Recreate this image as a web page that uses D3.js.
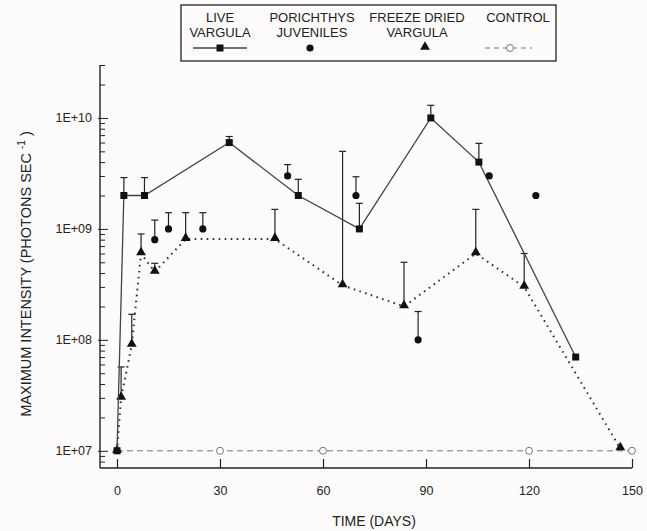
<!DOCTYPE html>
<html><head><meta charset="utf-8">
<script src="https://cdn.jsdelivr.net/npm/d3@7"></script>
<style>body{margin:0;background:#fdfbfb}svg{display:block}text{font-family:"Liberation Sans",Arial,sans-serif;fill:#222}</style>
</head><body><svg id="c" width="647" height="531"></svg>
<script>
// ---- data ----
const liveDays = [0, 2, 8, 32.7, 52.8, 70.6, 91.4, 105.4, 133.6];
const liveValues = [1e7, 2e9, 2e9, 6e9, 2e9, 1e9, 1e10, 4e9, 7e7];
const liveErrTop = [null, 2.9e9, 2.9e9, 6.8e9, 2.8e9, 1.7e9, 1.3e10, 5.9e9, null];

const porDays = [11, 15, 25, 49.7, 69.6, 87.7, 108.4, 122];
const porValues = [8e8, 1e9, 1e9, 3e9, 2e9, 1e8, 3e9, 2e9];
const porErrTop = [1.2e9, 1.4e9, 1.4e9, 3.8e9, 2.95e9, 1.8e8, null, null];

const frzDays = [0, 1.2, 4.3, 7, 11, 20, 46, 65.7, 83.6, 104.5, 118.6, 146.6];
const frzValues = [1e7, 3e7, 9e7, 6e8, 4.1e8, 8.1e8, 8.1e8, 3.1e8, 2e8, 6e8, 3e8, 1.05e7];
const frzErrTop = [null, 5.7e7, 1.7e8, 9e8, 4.9e8, 1.4e9, 1.5e9, 5e9, 5e8, 1.5e9, 6e8, null];

const ctrlDays = [0, 30, 60, 120, 150];
const ctrlValues = [1e7, 1e7, 1e7, 1e7, 1e7];

const xTicks = [0, 30, 60, 90, 120, 150];
const yMajor = [1e7, 1e8, 1e9, 1e10];
const yTickLabels = ["1E+07", "1E+08", "1E+09", "1E+10"];

const legendLabels = [["LIVE", "VARGULA"], ["PORICHTHYS", "JUVENILES"], ["FREEZE DRIED", "VARGULA"], ["CONTROL"]];

// ---- drawing ----
const svg = d3.select("#c");
const ink = "#222";
const x = d3.scaleLinear().domain([0, 150]).range([117, 632]);
const y = d3.scaleLog().domain([7e6, 3e10]).range([468, 65]);

// minor tick values
const yMinor = [];
for (let e = 6; e <= 10; e++) for (let m = 2; m <= 9; m++) {
  const v = m * Math.pow(10, e);
  if (v >= 7.9e6 && v <= 3.01e10) yMinor.push(v);
}

// axes lines
svg.append("line").attr("x1", 100).attr("x2", 100).attr("y1", y(3e10)).attr("y2", 468).attr("stroke", ink).attr("stroke-width", 1.4);
svg.append("line").attr("x1", 100).attr("x2", x(150)).attr("y1", 468).attr("y2", 468).attr("stroke", ink).attr("stroke-width", 1.4);

// y axis: major
const yAxisMajor = d3.axisLeft(y).tickValues(yMajor).tickSizeInner(-8).tickSizeOuter(0).tickPadding(16)
  .tickFormat((d, i) => yTickLabels[i]);
const gy = svg.append("g").attr("transform", "translate(100,0)").call(yAxisMajor);
gy.select(".domain").remove();
gy.selectAll("line").attr("stroke", ink).attr("x1", -2);
gy.selectAll("text").style("font-size", "12.5px").attr("fill", ink).attr("x", -8);

const yAxisMinor = d3.axisLeft(y).tickValues(yMinor).tickSizeInner(-5).tickSizeOuter(0).tickFormat("");
const gym = svg.append("g").attr("transform", "translate(100,0)").call(yAxisMinor);
gym.select(".domain").remove();
gym.selectAll("line").attr("stroke", ink);

// x axis
const xAxis = d3.axisBottom(x).tickValues(xTicks).tickSizeInner(-9).tickSizeOuter(0).tickPadding(18);
const gx = svg.append("g").attr("transform", "translate(0,468)").call(xAxis);
gx.select(".domain").remove();
gx.selectAll("line").attr("stroke", ink).attr("stroke-width", 1.2);
gx.selectAll("text").style("font-size", "12.5px").attr("fill", ink);

// axis titles
svg.append("text").attr("x", 374).attr("y", 526).attr("text-anchor", "middle").style("font-size", "14px").text("TIME  (DAYS)");
const yt = svg.append("text").attr("transform", "translate(31,274) rotate(-90)").attr("text-anchor", "middle").style("font-size", "14.5px");
yt.append("tspan").text("MAXIMUM INTENSITY (PHOTONS SEC ");
yt.append("tspan").attr("dy", -6).style("font-size", "10px").text("-1");
yt.append("tspan").attr("dy", 6).text(" )");

// helpers
const zip = (xs, ys) => xs.map((d, i) => [d, ys[i]]);
const line = d3.line().x(d => x(d[0])).y(d => y(d[1]));

function errBars(days, tops, vals) {
  days.forEach((d, i) => {
    if (tops[i] == null) return;
    const cx = x(d), y0 = y(vals[i]), y1 = y(tops[i]);
    svg.append("line").attr("x1", cx).attr("x2", cx).attr("y1", y0).attr("y2", y1).attr("stroke", ink).attr("stroke-width", 1.2);
    svg.append("line").attr("x1", cx - 3.5).attr("x2", cx + 3.5).attr("y1", y1).attr("y2", y1).attr("stroke", ink).attr("stroke-width", 1.2);
  });
}

// control
svg.append("path").datum(zip(ctrlDays, ctrlValues)).attr("d", line).attr("fill", "none").attr("stroke", "#777").attr("stroke-width", 1).attr("stroke-dasharray", "6,4");
svg.selectAll(".ctrl").data(zip(ctrlDays, ctrlValues).slice(1)).enter().append("circle")
  .attr("cx", d => x(d[0])).attr("cy", d => y(d[1])).attr("r", 3.5).attr("fill", "#fdfbfb").attr("stroke", "#777").attr("stroke-width", 1);

// freeze dried
errBars(frzDays, frzErrTop, frzValues);
svg.append("path").datum(zip(frzDays, frzValues)).attr("d", line).attr("fill", "none").attr("stroke", "#333").attr("stroke-width", 2).attr("stroke-dasharray", "1.6,4.4");
const tri = d3.symbol().type(d3.symbolTriangle).size(42);
svg.selectAll(".tri").data(zip(frzDays, frzValues)).enter().append("path")
  .attr("d", tri).attr("transform", d => `translate(${x(d[0])},${y(d[1]) - 1})`).attr("fill", "#111");

// live
errBars(liveDays, liveErrTop, liveValues);
svg.append("path").datum(zip(liveDays, liveValues)).attr("d", line).attr("fill", "none").attr("stroke", "#444").attr("stroke-width", 1.3);
svg.selectAll(".sq").data(zip(liveDays, liveValues)).enter().append("rect")
  .attr("x", d => x(d[0]) - 3.5).attr("y", d => y(d[1]) - 3.5).attr("width", 7).attr("height", 7).attr("fill", "#111");

// porichthys
errBars(porDays, porErrTop, porValues);
svg.selectAll(".dot").data(zip(porDays, porValues)).enter().append("circle")
  .attr("cx", d => x(d[0])).attr("cy", d => y(d[1])).attr("r", 3.6).attr("fill", "#111");

// legend
const lg = svg.append("g");
lg.append("rect").attr("x", 181).attr("y", 5).attr("width", 375).attr("height", 56).attr("fill", "none").attr("stroke", ink).attr("stroke-width", 1.3);
const colX = [220, 312, 417, 518];
legendLabels.forEach((lines, i) => {
  lines.forEach((t, j) => {
    lg.append("text").attr("x", colX[i]).attr("y", 22 + j * 15).attr("text-anchor", "middle").style("font-size", "13px").text(t);
  });
});
const ly = 48;
lg.append("line").attr("x1", 193).attr("x2", 247).attr("y1", ly).attr("y2", ly).attr("stroke", "#444").attr("stroke-width", 1.3);
lg.append("rect").attr("x", 216.5).attr("y", ly - 3.5).attr("width", 7).attr("height", 7).attr("fill", "#111");
lg.append("circle").attr("cx", 310).attr("cy", ly).attr("r", 3.6).attr("fill", "#111");
lg.append("path").attr("d", tri).attr("transform", `translate(425,${ly - 1})`).attr("fill", "#111");
lg.append("line").attr("x1", 485).attr("x2", 532).attr("y1", ly).attr("y2", ly).attr("stroke", "#777").attr("stroke-dasharray", "5,4");
lg.append("circle").attr("cx", 510).attr("cy", ly).attr("r", 3.5).attr("fill", "#fdfbfb").attr("stroke", "#777");
</script></body></html>
